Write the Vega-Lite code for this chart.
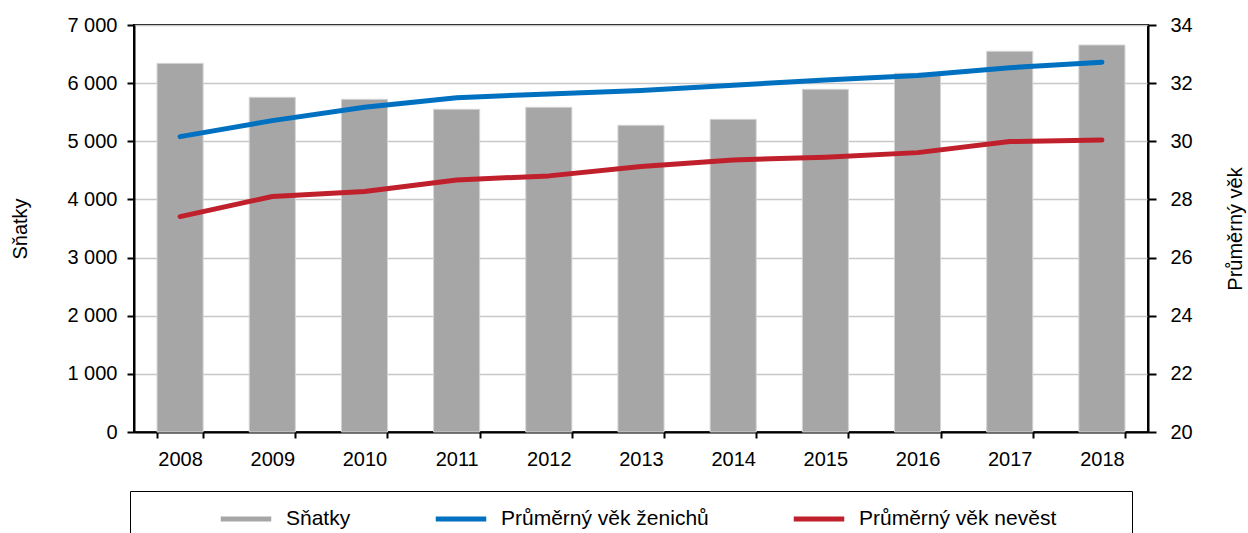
{
  "$schema": "https://vega.github.io/schema/vega-lite/v6.json",
  "width": 1014,
  "height": 407,
  "autosize": {"type": "none"},
  "padding": {"left": 134, "top": 25, "right": 100, "bottom": 101},
  "background": "white",
  "config": {
    "font": "Liberation Sans",
    "view": {"stroke": "black", "strokeWidth": 2},
    "axis": {
      "labelFont": "Liberation Sans", "labelFontSize": 20, "labelColor": "black",
      "titleFont": "Liberation Sans", "titleFontSize": 20, "titleFontWeight": "normal", "titleColor": "black",
      "domainColor": "black", "domainWidth": 2, "tickColor": "black", "tickWidth": 2
    }
  },
  "data": {"values": [
    {"rok": 2008, "snatky": 6340, "zenichu": 30.16, "nevest": 27.41},
    {"rok": 2009, "snatky": 5757, "zenichu": 30.71, "nevest": 28.10},
    {"rok": 2010, "snatky": 5722, "zenichu": 31.17, "nevest": 28.27},
    {"rok": 2011, "snatky": 5550, "zenichu": 31.50, "nevest": 28.67},
    {"rok": 2012, "snatky": 5585, "zenichu": 31.63, "nevest": 28.81},
    {"rok": 2013, "snatky": 5275, "zenichu": 31.75, "nevest": 29.13},
    {"rok": 2014, "snatky": 5378, "zenichu": 31.93, "nevest": 29.36},
    {"rok": 2015, "snatky": 5894, "zenichu": 32.11, "nevest": 29.45},
    {"rok": 2016, "snatky": 6170, "zenichu": 32.26, "nevest": 29.61},
    {"rok": 2017, "snatky": 6548, "zenichu": 32.53, "nevest": 29.99},
    {"rok": 2018, "snatky": 6656, "zenichu": 32.72, "nevest": 30.04}
  ]},
  "layer": [
    {
      "mark": {"type": "bar", "stroke": "#d4d4d4", "strokeWidth": 1},
      "encoding": {
        "x": {"field": "rok", "type": "ordinal",
          "scale": {"paddingInner": 0.5, "paddingOuter": 0.25},
          "axis": {"title": null, "labelAngle": 0, "tickBand": "extent", "tickSize": 6, "labelPadding": 11, "grid": false}},
        "y": {"field": "snatky", "type": "quantitative",
          "scale": {"domain": [0, 7000]},
          "axis": {"title": "Sňatky", "values": [0, 1000, 2000, 3000, 4000, 5000, 6000, 7000],
            "labelExpr": "replace(format(datum.value, ','), ',', ' ')",
            "tickSize": 7, "labelPadding": 10, "titlePadding": 36,
            "grid": true, "gridColor": "#c8c8c8", "gridWidth": 1.5}},
        "color": {"datum": "Sňatky", "type": "nominal",
          "scale": {"domain": ["Sňatky", "Průměrný věk ženichů", "Průměrný věk nevěst"],
                    "range": ["#a6a6a6", "#0070c0", "#c0202b"]},
          "legend": {
            "orient": "none", "legendX": -4, "legendY": 466, "direction": "horizontal", "columns": 3,
            "title": "\u2800", "titleOrient": "left", "titlePadding": 44, "titleFontSize": 60, "titleColor": "white",
            "strokeColor": "black", "padding": 0,
            "symbolType": "stroke", "symbolSize": 2550, "symbolStrokeWidth": 5,
            "labelFont": "Liberation Sans", "labelFontSize": 21, "labelColor": "black", "labelOffset": 12,
            "labelLimit": 400,
            "labelExpr": "datum.index === 2 ? datum.label + '\u2800\u2800\u2800\u2800\u2800' : datum.label",
            "columnPadding": 74,
            "encode": {"symbols": {"update": {
              "strokeWidth": {"signal": "datum.value === 'Sňatky' ? 11 : 5"},
              "strokeCap": {"signal": "datum.value === 'Sňatky' ? 'butt' : 'round'"},
              "stroke": {"scale": "color", "field": "value"}
            }}}
          }}
      }
    },
    {
      "layer": [
        {
          "mark": {"type": "line", "strokeWidth": 5, "strokeCap": "round", "strokeJoin": "round"},
          "encoding": {
            "x": {"field": "rok", "type": "ordinal"},
            "y": {"field": "zenichu", "type": "quantitative", "scale": {"domain": [20, 34]},
              "axis": {"orient": "right", "title": "Průměrný věk", "values": [20, 22, 24, 26, 28, 30, 32, 34],
                "grid": false, "tickSize": 8, "labelPadding": 14, "titleAngle": -90, "titlePadding": 53}},
            "color": {"datum": "Průměrný věk ženichů", "type": "nominal"}
          }
        },
        {
          "mark": {"type": "line", "strokeWidth": 5, "strokeCap": "round", "strokeJoin": "round"},
          "encoding": {
            "x": {"field": "rok", "type": "ordinal"},
            "y": {"field": "nevest", "type": "quantitative", "scale": {"domain": [20, 34]},
              "axis": {"orient": "right", "title": "Průměrný věk", "values": [20, 22, 24, 26, 28, 30, 32, 34],
                "grid": false, "tickSize": 8, "labelPadding": 14, "titleAngle": -90, "titlePadding": 53}},
            "color": {"datum": "Průměrný věk nevěst", "type": "nominal"}
          }
        }
      ]
    }
  ],
  "resolve": {"scale": {"y": "independent"}}
}
